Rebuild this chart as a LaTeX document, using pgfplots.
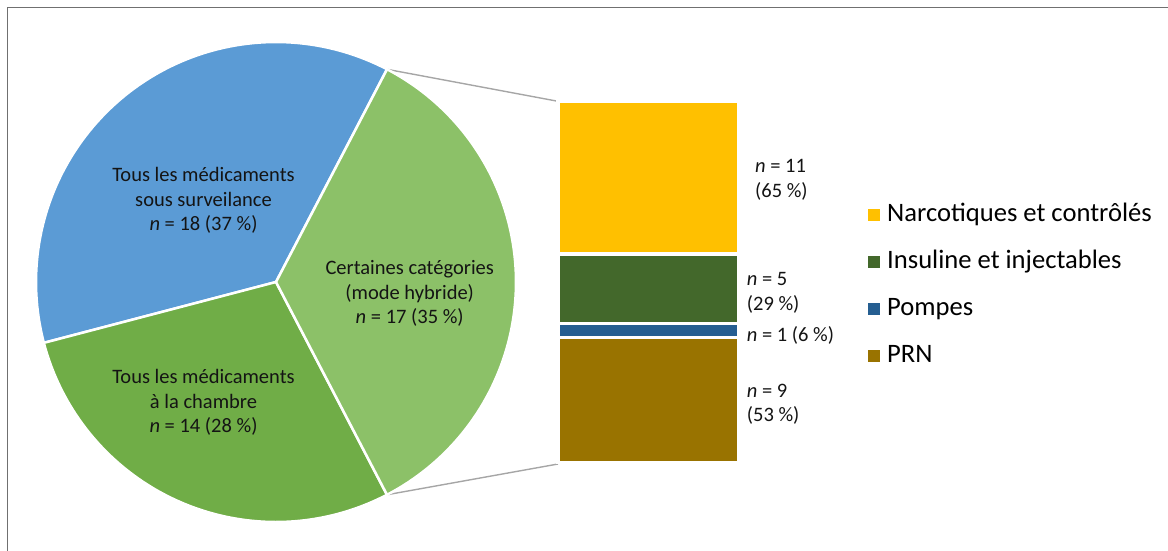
\documentclass[border=0pt]{standalone}
\usepackage{pgfplots}
\pgfplotsset{compat=1.18}
\usepackage{fontspec}
\setmainfont{Carlito}
\definecolor{pieblue}{HTML}{5B9BD5}
\definecolor{piegreen}{HTML}{70AD47}
\definecolor{pielight}{HTML}{8CC168}
\definecolor{byellow}{HTML}{FFC000}
\definecolor{bgreen}{HTML}{43682B}
\definecolor{bblue}{HTML}{255E91}
\definecolor{bbrown}{HTML}{997300}
\definecolor{framec}{HTML}{707070}
\definecolor{conn}{HTML}{A6A6A6}
\definecolor{txt}{HTML}{141414}
% pie data (n)
\def\nA{18}% Tous les medicaments sous surveillance
\def\nB{14}% Tous les medicaments a la chambre
\def\nC{17}% Certaines categories (mode hybride)
\pgfmathsetmacro\tot{\nA+\nB+\nC}
\pgfmathsetmacro\aC{180*\nC/\tot}
\pgfmathsetmacro\aAend{\aC+360*\nA/\tot}
\pgfmathsetmacro\aBend{\aAend+360*\nB/\tot}
\pgfmathsetmacro\aCend{\aBend+360*\nC/\tot}
\newcommand\fs{\fontsize{20.5}{24.5}\selectfont}
\begin{document}
\begin{tikzpicture}[x=1pt,y=1pt]
\path[use as bounding box] (0pt,0pt) rectangle (1168pt,550pt);
\begin{axis}[name=main, at={(0pt,0pt)}, anchor=south west, width=1168pt, height=550pt,
  scale only axis, xmin=0, xmax=1168, ymin=0, ymax=550, y dir=reverse,
  hide axis, clip=false]
\draw[framec, line width=1.6pt] (axis cs:7.5,553) -- (axis cs:7.5,7.5) -- (axis cs:1171,7.5);
\draw[conn, line width=1.4pt] (axis cs:380,68) -- (axis cs:558,101.3);
\draw[conn, line width=1.4pt] (axis cs:380,496) -- (axis cs:558,464);
\addplot[fill=pieblue, draw=white, line width=2.5pt, line join=round, domain=\aC:\aAend, samples=90, variable=\t]
  ({276+240*cos(\t)},{282-240*sin(\t)}) -- (axis cs:276,282) -- cycle;
\addplot[fill=piegreen, draw=white, line width=2.5pt, line join=round, domain=\aAend:\aBend, samples=90, variable=\t]
  ({276+240*cos(\t)},{282-240*sin(\t)}) -- (axis cs:276,282) -- cycle;
\addplot[fill=pielight, draw=white, line width=2.5pt, line join=round, domain=\aBend:\aCend, samples=90, variable=\t]
  ({276+240*cos(\t)},{282-240*sin(\t)}) -- (axis cs:276,282) -- cycle;
\node[txt, font=\fs, align=center] at (axis cs:203.5,200.5) {Tous les médicaments\\sous surveilance\\\textit{n} = 18 (37~\%)};
\node[txt, font=\fs, align=center] at (axis cs:409.7,293.5) {Certaines catégories\\(mode hybride)\\\textit{n} = 17 (35~\%)};
\node[txt, font=\fs, align=center] at (axis cs:203.5,402.5) {Tous les médicaments\\à la chambre\\\textit{n} = 14 (28~\%)};
\node[txt, font=\fs, align=left, anchor=west, inner sep=0pt] at (axis cs:755,180) {\textit{n} = 11\\(65~\%)};
\node[txt, font=\fs, align=left, anchor=west, inner sep=0pt] at (axis cs:746.7,293) {\textit{n} = 5\\(29~\%)};
\node[txt, font=\fs, align=left, anchor=west, inner sep=0pt] at (axis cs:746.7,335) {\textit{n} = 1 (6~\%)};
\node[txt, font=\fs, align=left, anchor=west, inner sep=0pt] at (axis cs:746.7,404.5) {\textit{n} = 9\\(53~\%)};
\end{axis}
\begin{axis}[at={(558pt,87.5pt)}, anchor=south west, width=181pt, height=361.2pt,
  scale only axis, xmin=-0.5, xmax=0.5, ymin=0, ymax=26, hide axis,
  ybar stacked, bar width=181pt, clip=false, reverse legend,
  legend cell align=left,
  legend style={at={(1.7127,0.7205)}, anchor=north west, draw=none, fill=none,
    inner sep=0pt, row sep=21.5pt, column sep=7pt,
    font=\fontsize{26.6}{31}\selectfont,
    nodes={inner sep=0pt, text height=19pt, text depth=6.5pt}},
  legend image code/.code={\fill[#1,draw=none] (0pt,-6pt) rectangle (12pt,6pt);}]
\addplot[fill=bbrown, draw=white, line width=3.6pt] coordinates {(0,9)};
\addlegendentry{PRN}
\addplot[fill=bblue, draw=white, line width=3.6pt] coordinates {(0,1)};
\addlegendentry{Pompes}
\addplot[fill=bgreen, draw=white, line width=3.6pt] coordinates {(0,5)};
\addlegendentry{Insuline et injectables}
\addplot[fill=byellow, draw=white, line width=3.6pt] coordinates {(0,11)};
\addlegendentry{Narcotiques et contrôlés}
\end{axis}
\end{tikzpicture}
\end{document}
